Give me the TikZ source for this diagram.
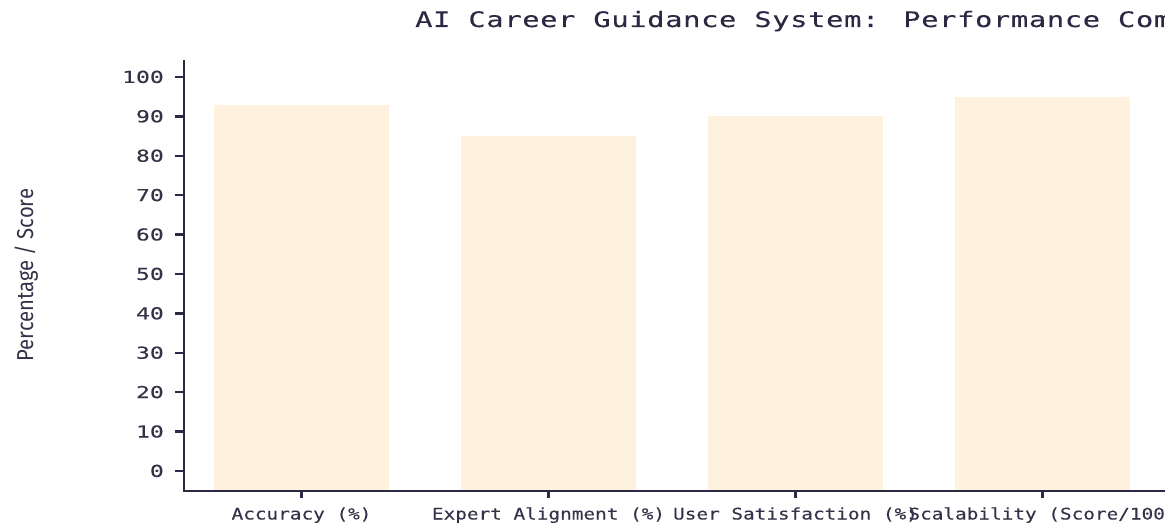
\documentclass[tikz,border=0pt]{standalone}
\usepackage{fontspec}
\newfontfamily\titlefont[FakeStretch=1.35,LetterSpace=3,FakeBold=0.2]{DejaVu Sans Mono}
\newfontfamily\catfont[FakeStretch=1.21,FakeBold=0.2]{DejaVu Sans Mono}
\newfontfamily\tickfont[FakeStretch=1.4,FakeBold=0.2]{DejaVu Sans Mono}
\newfontfamily\ylabfont[FakeStretch=0.88]{Fira Sans}
\definecolor{ink}{RGB}{42,40,66}
\definecolor{txt}{RGB}{52,50,72}
\definecolor{bar}{RGB}{254,242,222}
\begin{document}
\begin{tikzpicture}[x=1pt,y=-1pt,
  barbox/.style={fill=bar,draw=none},
  axisline/.style={draw=ink,line width=2.7pt},
  tickline/.style={draw=ink,line width=2.4pt},
  ticklab/.style={font=\tickfont\fontsize{16.5}{16.5}\selectfont,text=txt,inner sep=0pt,anchor=base east},
  catlab/.style={font=\catfont\fontsize{16}{16}\selectfont,text=txt,inner sep=0pt,anchor=base}]
\useasboundingbox (0,0) rectangle (1165,527);
% title
\node[font=\titlefont\fontsize{21.3}{21.3}\selectfont,text=ink,inner sep=0pt,anchor=base west] (title) at (415,27) {AI Career Guidance System: Performance Com};
% y label
\node[font=\ylabfont\fontsize{23}{23}\selectfont,text=txt,inner sep=0pt,rotate=90,anchor=base] (ylab) at (33,275) {Percentage / Score};
% bars
\foreach \c/\v [count=\i from 0] in {a/93,b/85,c/90,d/95}{
  \pgfmathsetmacro{\xc}{301.5+247*\i}
  \pgfmathsetmacro{\yt}{471-3.94*\v}
  \fill[bar] (\xc-87.5,\yt) rectangle (\xc+87.5,491);
  \coordinate (bar\c) at (\xc,491);
}
% axes
\coordinate (o) at (184,491);
\coordinate (ytop) at (184,60);
\coordinate (xend) at (1170,491);
\draw[axisline] (ytop) -- (184,492.35);
\draw[axisline] (182.65,491) -- (xend);
% y ticks
\foreach \v in {0,10,...,100}{
  \pgfmathsetmacro{\yy}{471-3.94*\v}
  \draw[tickline] (175,\yy) -- (184,\yy);
  \node[ticklab] (t\v) at (164,\yy+5.9) {\v};
}
% x ticks and labels
\foreach \c/\lab in {a/{Accuracy (\%)},b/{Expert Alignment (\%)},c/{User Satisfaction (\%)},d/{Scalability (Score/100)}}{
  \draw[tickline] (bar\c) -- ++(0,7);
  \node[catlab] (l\c) at ([yshift=-28.5pt]bar\c) {\lab};
}
\end{tikzpicture}
\end{document}
